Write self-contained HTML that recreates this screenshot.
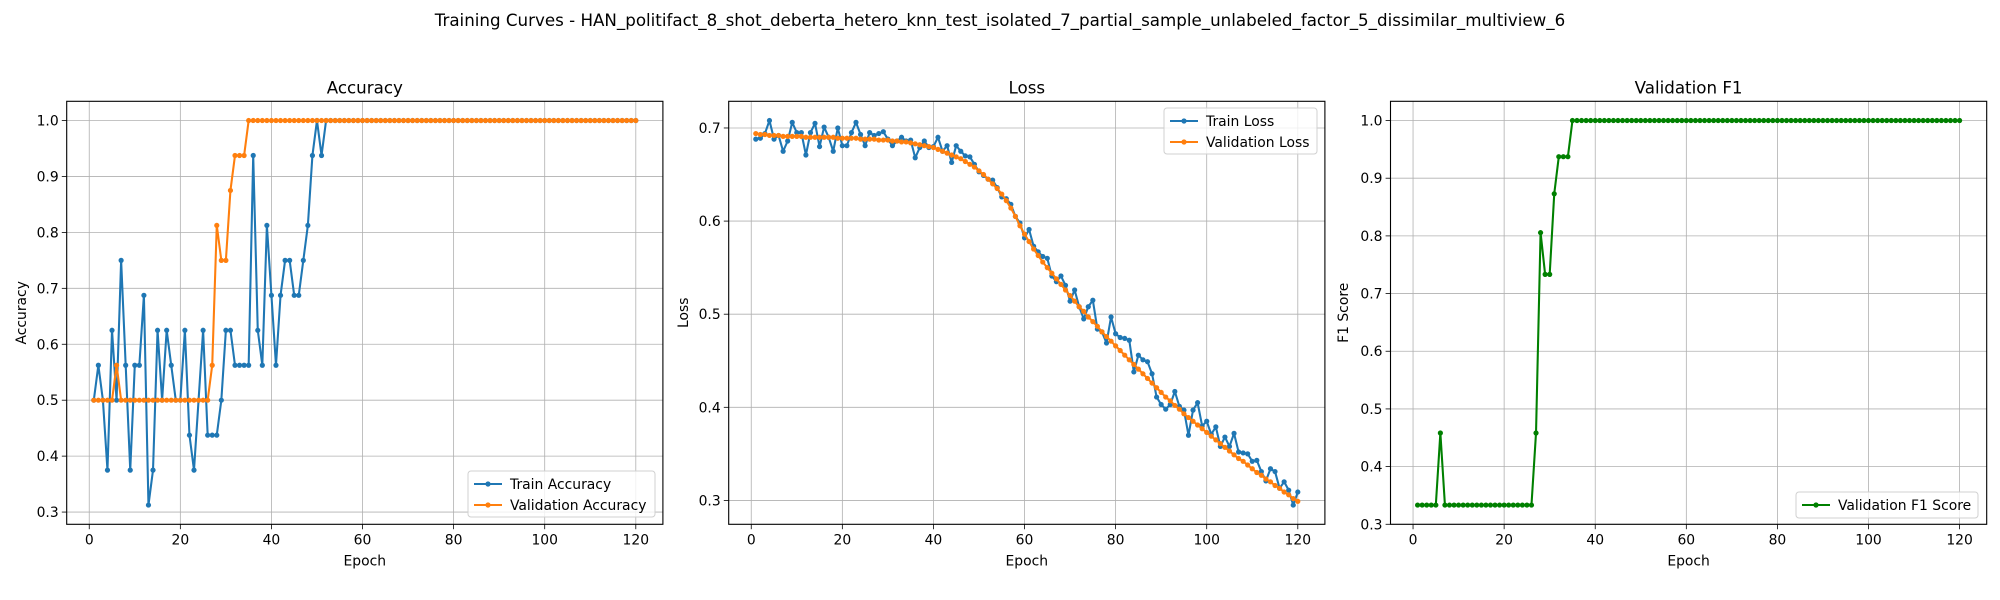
<!DOCTYPE html>
<html><head><meta charset="utf-8">
<style>
html,body{margin:0;padding:0;background:#fff;}
svg{display:block;font-family:"DejaVu Sans","Liberation Sans",sans-serif;}
</style></head>
<body>
<svg id="fig" width="2000" height="600" viewBox="0 0 2000 600" xmlns="http://www.w3.org/2000/svg">
<rect width="2000" height="600" fill="#fff"/>
<text x="1000" y="26" text-anchor="middle" font-size="16.7" fill="#000">Training Curves - HAN_politifact_8_shot_deberta_hetero_knn_test_isolated_7_partial_sample_unlabeled_factor_5_dissimilar_multiview_6</text>
</svg>
<script>
const accTrain=[0.5,0.5625,0.5,0.375,0.625,0.5,0.75,0.5625,0.375,0.5625,0.5625,0.6875,0.3125,0.375,0.625,0.5,0.625,0.5625,0.5,0.5,0.625,0.4375,0.375,0.5,0.625,0.4375,0.4375,0.4375,0.5,0.625,0.625,0.5625,0.5625,0.5625,0.5625,0.9375,0.625,0.5625,0.8125,0.6875,0.5625,0.6875,0.75,0.75,0.6875,0.6875,0.75,0.8125,0.9375,1,0.9375,1,1,1,1,1,1,1,1,1,1,1,1,1,1,1,1,1,1,1,1,1,1,1,1,1,1,1,1,1,1,1,1,1,1,1,1,1,1,1,1,1,1,1,1,1,1,1,1,1,1,1,1,1,1,1,1,1,1,1,1,1,1,1,1,1,1,1,1,1];
const accVal=[0.5,0.5,0.5,0.5,0.5,0.5625,0.5,0.5,0.5,0.5,0.5,0.5,0.5,0.5,0.5,0.5,0.5,0.5,0.5,0.5,0.5,0.5,0.5,0.5,0.5,0.5,0.5625,0.8125,0.75,0.75,0.875,0.9375,0.9375,0.9375,1,1,1,1,1,1,1,1,1,1,1,1,1,1,1,1,1,1,1,1,1,1,1,1,1,1,1,1,1,1,1,1,1,1,1,1,1,1,1,1,1,1,1,1,1,1,1,1,1,1,1,1,1,1,1,1,1,1,1,1,1,1,1,1,1,1,1,1,1,1,1,1,1,1,1,1,1,1,1,1,1,1,1,1,1,1];
const lossTrain=[0.688,0.689,0.694,0.708,0.688,0.692,0.675,0.686,0.706,0.695,0.695,0.671,0.695,0.705,0.680,0.701,0.690,0.675,0.700,0.681,0.681,0.695,0.706,0.693,0.681,0.695,0.692,0.694,0.696,0.688,0.681,0.686,0.690,0.686,0.687,0.668,0.679,0.686,0.679,0.680,0.690,0.675,0.681,0.663,0.681,0.675,0.670,0.669,0.661,0.653,0.649,0.645,0.644,0.636,0.626,0.624,0.618,0.605,0.598,0.582,0.591,0.573,0.567,0.562,0.560,0.541,0.535,0.541,0.531,0.514,0.526,0.508,0.495,0.508,0.515,0.484,0.481,0.469,0.497,0.479,0.475,0.474,0.472,0.438,0.456,0.451,0.449,0.436,0.411,0.403,0.398,0.403,0.417,0.401,0.397,0.370,0.397,0.405,0.380,0.385,0.371,0.379,0.358,0.368,0.358,0.372,0.352,0.351,0.350,0.342,0.343,0.331,0.321,0.334,0.331,0.313,0.320,0.311,0.295,0.309];
const lossVal=[0.694,0.693,0.693,0.692,0.692,0.692,0.691,0.691,0.691,0.691,0.691,0.690,0.690,0.690,0.690,0.690,0.690,0.690,0.689,0.689,0.689,0.689,0.689,0.688,0.688,0.688,0.688,0.687,0.687,0.687,0.686,0.686,0.685,0.685,0.684,0.683,0.682,0.681,0.680,0.679,0.677,0.675,0.673,0.671,0.669,0.667,0.664,0.661,0.658,0.654,0.650,0.645,0.640,0.635,0.629,0.622,0.614,0.605,0.595,0.586,0.578,0.570,0.563,0.556,0.550,0.544,0.538,0.532,0.526,0.520,0.514,0.508,0.503,0.497,0.492,0.487,0.481,0.476,0.471,0.466,0.461,0.456,0.451,0.446,0.441,0.436,0.431,0.426,0.421,0.416,0.411,0.407,0.402,0.398,0.393,0.389,0.385,0.381,0.377,0.373,0.369,0.365,0.361,0.357,0.353,0.349,0.345,0.342,0.338,0.334,0.330,0.327,0.323,0.320,0.316,0.313,0.309,0.306,0.302,0.299];
const f1Val=[0.3333,0.3333,0.3333,0.3333,0.3333,0.4583,0.3333,0.3333,0.3333,0.3333,0.3333,0.3333,0.3333,0.3333,0.3333,0.3333,0.3333,0.3333,0.3333,0.3333,0.3333,0.3333,0.3333,0.3333,0.3333,0.3333,0.4583,0.8056,0.7333,0.7333,0.873,0.9373,0.9373,0.9373,1,1,1,1,1,1,1,1,1,1,1,1,1,1,1,1,1,1,1,1,1,1,1,1,1,1,1,1,1,1,1,1,1,1,1,1,1,1,1,1,1,1,1,1,1,1,1,1,1,1,1,1,1,1,1,1,1,1,1,1,1,1,1,1,1,1,1,1,1,1,1,1,1,1,1,1,1,1,1,1,1,1,1,1,1,1];
const xTicks=[0,20,40,60,80,100,120];
const accYTicks=[0.3,0.4,0.5,0.6,0.7,0.8,0.9,1.0];
const lossYTicks=[0.3,0.4,0.5,0.6,0.7];
const f1YTicks=[0.3,0.4,0.5,0.6,0.7,0.8,0.9,1.0];

const NS="http://www.w3.org/2000/svg";
const svg=document.getElementById('fig');
function mk(tag,attrs,parent){const e=document.createElementNS(NS,tag);for(const k in attrs)e.setAttribute(k,attrs[k]);(parent||svg).appendChild(e);return e;}
const TOP=101.3,BOT=524.3,W=596.2;

function panel(cfg){
  const g=mk('g',{});
  
  
  const L=cfg.left,R=L+W;
  const n=cfg.series[0].data.length;
  const xmin=1-(n-1)*0.05,xmax=n+(n-1)*0.05;
  let ymin=Infinity,ymax=-Infinity;
  cfg.series.forEach(s=>s.data.forEach(v=>{ymin=Math.min(ymin,v);ymax=Math.max(ymax,v);}));
  const pad=(ymax-ymin)*0.05;const y0=ymin-pad,y1=ymax+pad;
  const X=v=>L+(v-xmin)/(xmax-xmin)*W;
  const Y=v=>BOT-(v-y0)/(y1-y0)*(BOT-TOP);
  // grid
  xTicks.forEach(t=>{
    const gl=mk('line',{x1:X(t),x2:X(t),y1:TOP,y2:BOT,stroke:'#b0b0b0','stroke-width':0.8},g);
    
    
    mk('line',{x1:X(t),x2:X(t),y1:BOT,y2:BOT+4.9,stroke:'#000','stroke-width':0.8},g);
    const tl=mk('text',{x:X(t),y:BOT+20,'text-anchor':'middle','font-size':13.9,fill:'#000'},g);
    tl.textContent=t;
    
    
  });
  cfg.yTicks.forEach(t=>{
    const gl=mk('line',{x1:L,x2:R,y1:Y(t),y2:Y(t),stroke:'#b0b0b0','stroke-width':0.8},g);
    
    
    mk('line',{x1:L-4.9,x2:L,y1:Y(t),y2:Y(t),stroke:'#000','stroke-width':0.8},g);
    const tl=mk('text',{x:L-8,y:Y(t)+5,'text-anchor':'end','font-size':13.9,fill:'#000'},g);
    tl.textContent=t.toFixed(1);
    
    
  });
  // series
  cfg.series.forEach(s=>{
    const pts=s.data.map((v,i)=>X(i+1).toFixed(2)+','+Y(v).toFixed(2)).join(' ');
    const pl=mk('polyline',{points:pts,fill:'none',stroke:s.color,'stroke-width':2.08,'stroke-linejoin':'round'},g);
    
    
    s.data.forEach((v,i)=>{
      const c=mk('circle',{cx:X(i+1),cy:Y(v),r:2.6,fill:s.color},g);
      
      
    });
  });
  // frame
  const fr=mk('rect',{x:L,y:TOP,width:W,height:BOT-TOP,fill:'none',stroke:'#000','stroke-width':1.1},g);
  
  
  const ti=mk('text',{x:L+W/2,y:TOP-8,'text-anchor':'middle','font-size':16.7,fill:'#000'},g);
  ti.textContent=cfg.title;
  
  
  const xl=mk('text',{x:L+W/2,y:BOT+41,'text-anchor':'middle','font-size':13.9,fill:'#000'},g);
  xl.textContent='Epoch';
  
  
  const yl=mk('text',{x:0,y:0,'text-anchor':'middle','font-size':13.9,fill:'#000',transform:`translate(${cfg.ylx},${(TOP+BOT)/2}) rotate(-90)`},g);
  yl.textContent=cfg.ylabel;
  
  
  // legend
  const lg=cfg.legend;
  const lgG=mk('g',{},g);
  
  
  mk('rect',{x:lg.x,y:lg.y,width:lg.w,height:lg.h,rx:3,fill:'#fff','fill-opacity':0.8,stroke:'#d0d0d0','stroke-width':1},lgG);
  cfg.series.forEach((s,i)=>{
    const yy=lg.y+13+i*21;
    const eg=mk('g',{},lgG);
    
    
    mk('line',{x1:lg.x+6,x2:lg.x+34,y1:yy,y2:yy,stroke:s.color,'stroke-width':2.08},eg);
    mk('circle',{cx:lg.x+20,cy:yy,r:2.6,fill:s.color},eg);
    const t=mk('text',{x:lg.x+42,y:yy+5,'font-size':13.9,fill:'#000'},eg);
    t.textContent=s.label;
  });
}

panel({name:'accuracy',title:'Accuracy',ylabel:'Accuracy',left:66.7,ylx:26,yTicks:accYTicks,
  series:[{key:'train-accuracy',label:'Train Accuracy',color:'#1f77b4',data:accTrain},{key:'validation-accuracy',label:'Validation Accuracy',color:'#ff7f0e',data:accVal}],
  legend:{x:468,y:471,w:187,h:46}});
panel({name:'loss',title:'Loss',ylabel:'Loss',left:728.7,ylx:688,yTicks:lossYTicks,
  series:[{key:'train-loss',label:'Train Loss',color:'#1f77b4',data:lossTrain},{key:'validation-loss',label:'Validation Loss',color:'#ff7f0e',data:lossVal}],
  legend:{x:1164,y:108,w:153,h:46}});
panel({name:'f1',title:'Validation F1',ylabel:'F1 Score',left:1390.5,ylx:1348,yTicks:f1YTicks,
  series:[{key:'validation-f1',label:'Validation F1 Score',color:'#008000',data:f1Val}],
  legend:{x:1796,y:492,w:182,h:26}});
</script>
</body></html>
